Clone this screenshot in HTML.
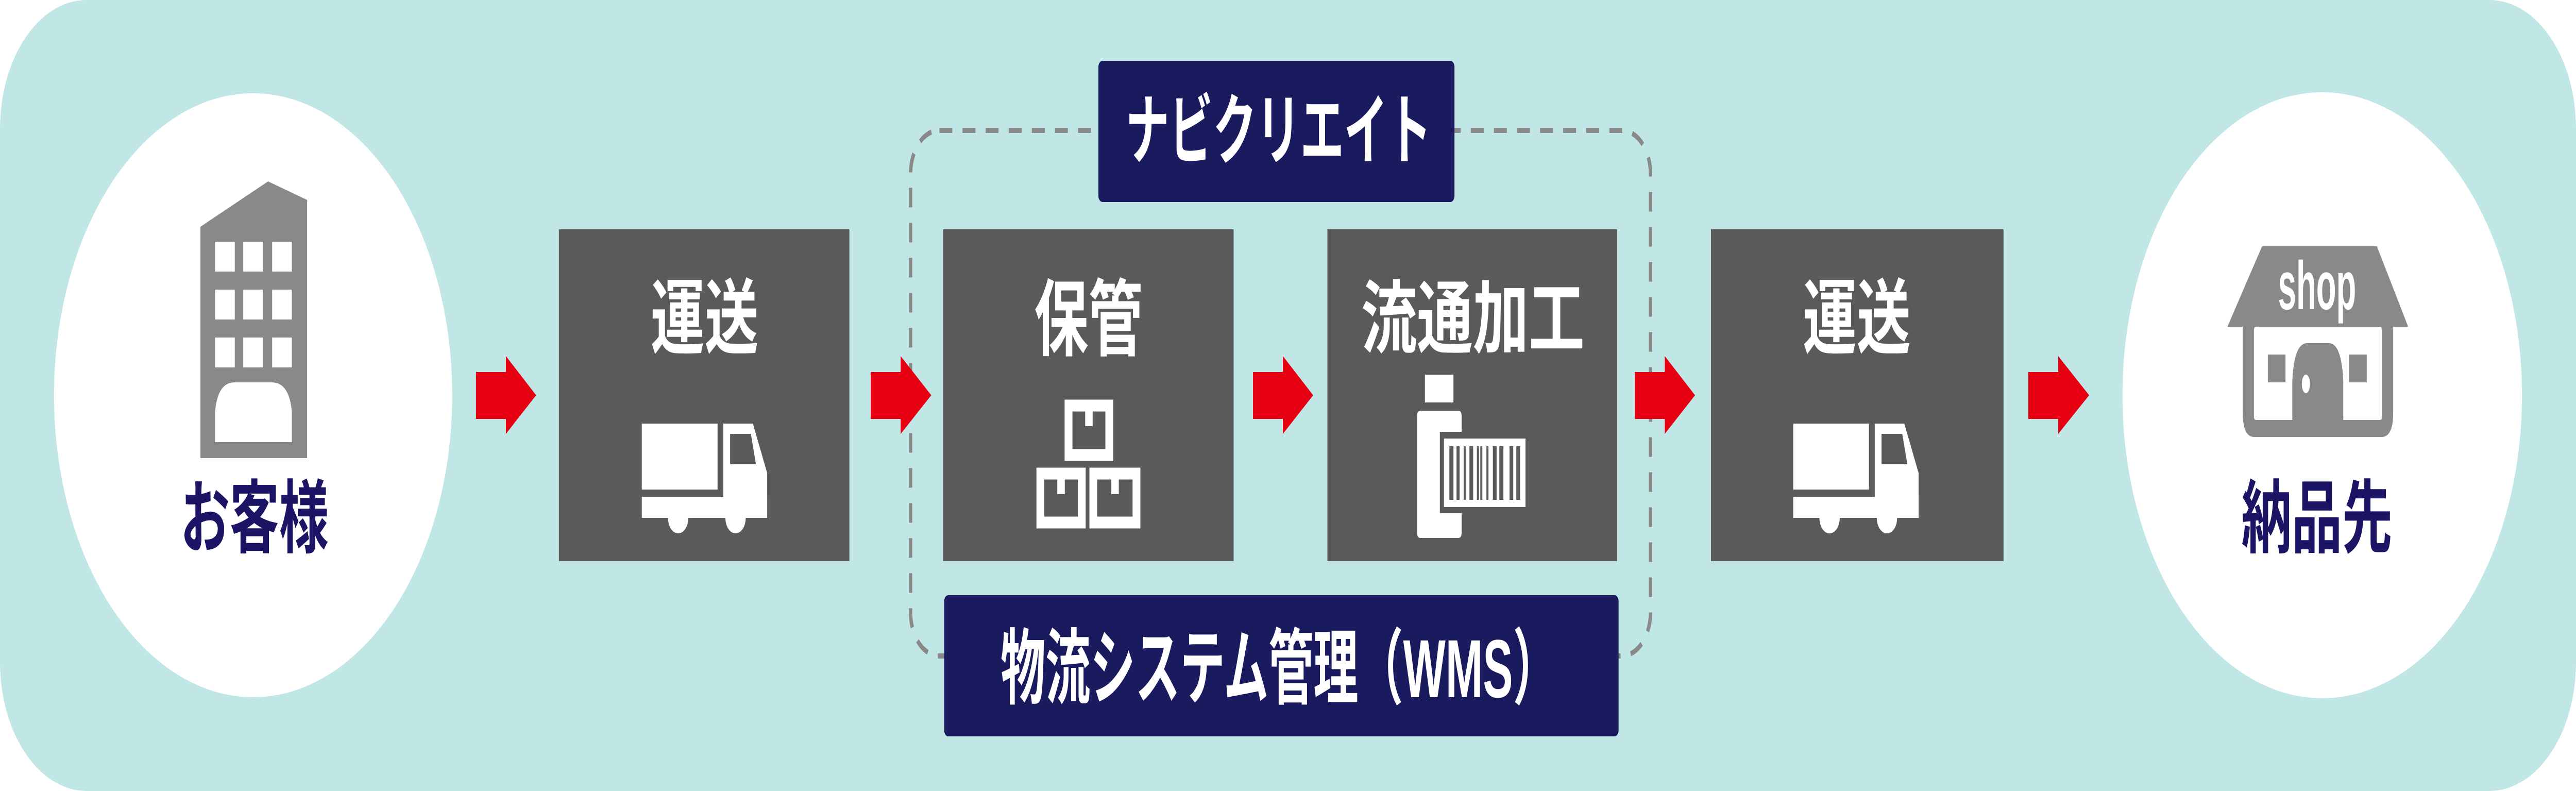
<!DOCTYPE html>
<html><head><meta charset="utf-8"><style>
html,body{margin:0;padding:0;background:#c0e7e6;width:100%;height:100%;overflow:hidden;}
svg{display:block;width:100vw;height:100vh;}
text{font-family:"Liberation Sans","Noto Sans CJK JP",sans-serif;font-weight:bold;}
</style></head><body>
<svg viewBox="0 0 7582 1535" preserveAspectRatio="none" xmlns="http://www.w3.org/2000/svg">
<rect x="0" y="0" width="7582" height="1535" fill="#fff"/>
<rect x="0" y="0" width="7582" height="1535" rx="255" ry="250" fill="#c0e7e6"/>
<circle cx="745" cy="767" r="586" fill="#fff"/>
<circle cx="6835" cy="767" r="588" fill="#fff"/>
<polygon points="590,440 789,352 904,388 904,889 590,889" fill="#898989"/>
<g fill="#fff">
<rect x="633" y="469" width="58" height="58"/><rect x="716" y="469" width="58" height="58"/><rect x="801" y="469" width="58" height="58"/>
<rect x="633" y="562" width="58" height="58"/><rect x="716" y="562" width="58" height="58"/><rect x="801" y="562" width="58" height="58"/>
<rect x="633" y="655" width="58" height="58"/><rect x="716" y="655" width="58" height="58"/><rect x="801" y="655" width="58" height="58"/>
<path d="M633,858 L633,800 Q640,742 690,742 L800,742 Q852,742 859,800 L859,858 Z"/>
</g>
<text x="531" y="1060" font-size="155" fill="#1c1565" textLength="436" lengthAdjust="spacingAndGlyphs">お客様</text>
<rect x="2680" y="253" width="2178" height="1020" rx="85" ry="85" fill="none" stroke="#898989" stroke-width="10" stroke-dasharray="38 30"/>
<g fill="#5b5a5b">
<rect x="1645" y="445" width="855" height="644"/>
<rect x="2776" y="445" width="855" height="644"/>
<rect x="3907" y="445" width="853" height="644"/>
<rect x="5036" y="445" width="861" height="644"/>
</g>
<g fill="#e60012">
<polygon points="1401,722 1489,722 1489,691 1578,767 1489,842 1489,813 1401,813"/>
<polygon points="2563,722 2651,722 2651,691 2741,767 2651,842 2651,813 2563,813"/>
<polygon points="3688,722 3776,722 3776,691 3865,767 3776,842 3776,813 3688,813"/>
<polygon points="4812,722 4900,722 4900,691 4989,767 4900,842 4900,813 4812,813"/>
<polygon points="5970,722 6058,722 6058,691 6149,767 6058,842 6058,813 5970,813"/>
</g>
<rect x="3233" y="118" width="1048" height="274" rx="12" fill="#1a1b5e"/>
<text x="3313" y="306" font-size="150" fill="#fff" textLength="900" lengthAdjust="spacingAndGlyphs">ナビクリエイト</text>
<rect x="2779" y="1155" width="1985" height="274" rx="12" fill="#1a1b5e"/>
<text x="2945" y="1353" font-size="160" fill="#fff" textLength="1640" lengthAdjust="spacingAndGlyphs">物流システム管理（WMS）</text>
<g fill="#fff">
<text x="1915" y="674" font-size="160" textLength="318" lengthAdjust="spacingAndGlyphs">運送</text>
<text x="3044" y="677" font-size="162" textLength="319" lengthAdjust="spacingAndGlyphs">保管</text>
<text x="4006" y="673" font-size="155" textLength="658" lengthAdjust="spacingAndGlyphs">流通加工</text>
<text x="5306" y="674" font-size="160" textLength="318" lengthAdjust="spacingAndGlyphs">運送</text>
</g>
<g id="truck" fill="#fff">
<rect x="1889" y="822" width="223" height="128"/>
<path d="M2129,822 L2216,822 L2258,918 L2258,1005 L2129,1005 Z M2149,842 L2149,901 L2225,901 L2210,842 Z" fill-rule="evenodd"/>
<rect x="1889" y="964" width="369" height="41"/>
<ellipse cx="1996" cy="1005" rx="30" ry="30"/>
<ellipse cx="2165" cy="1005" rx="30" ry="30"/>
</g>
<use href="#truck" x="3389" y="0"/>
<g fill="none" stroke="#fff" stroke-width="23">
<rect x="3145" y="787" width="120" height="96"/>
<rect x="3062" y="919" width="122" height="95"/>
<rect x="3218" y="919" width="127" height="95"/>
</g>
<g fill="#fff">
<rect x="3194" y="787" width="22" height="40"/>
<rect x="3112" y="919" width="22" height="40"/>
<rect x="3271" y="919" width="22" height="40"/>
</g>
<g fill="#fff">
<rect x="4194" y="727" width="84" height="54"/>
<path d="M4181,797 L4292,797 Q4302,797 4302,807 L4302,838 L4238,838 L4238,996 L4302,996 L4302,1034 Q4302,1044 4292,1044 L4181,1044 Q4171,1044 4171,1034 L4171,807 Q4171,797 4181,797 Z"/>
<rect x="4250" y="851" width="240" height="133"/>
</g>
<g fill="#5b5a5b">
<rect x="4266" y="866" width="12" height="104"/><rect x="4287" y="866" width="9" height="104"/>
<rect x="4308" y="866" width="6" height="104"/><rect x="4325" y="866" width="11" height="104"/>
<rect x="4347" y="866" width="6" height="104"/><rect x="4357" y="866" width="6" height="104"/>
<rect x="4375" y="866" width="6" height="104"/><rect x="4394" y="866" width="11" height="104"/>
<rect x="4413" y="866" width="12" height="104"/><rect x="4443" y="866" width="11" height="104"/>
<rect x="4463" y="866" width="11" height="104"/>
</g>
<polygon points="6658,478 6996,478 7088,634 6556,634" fill="#898989"/>
<text x="6705" y="600" font-size="133" fill="#fff" textLength="230" lengthAdjust="spacingAndGlyphs">shop</text>
<path d="M6601,634 L7044,634 L7044,800 Q7044,848 7010,848 L6635,848 Q6601,848 6601,800 Z" fill="#898989"/>
<rect x="6634" y="634" width="377" height="181" rx="6" fill="#fff"/>
<rect x="6675" y="688" width="52" height="54" fill="#898989"/>
<rect x="6914" y="688" width="52" height="54" fill="#898989"/>
<path d="M6747,815 L6747,740 Q6752,666 6790,666 L6855,666 Q6892,666 6897,740 L6897,815 Z" fill="#898989"/>
<ellipse cx="6787" cy="745" rx="12" ry="18" fill="#fff"/>
<text x="6597" y="1060" font-size="155" fill="#1c1565" textLength="445" lengthAdjust="spacingAndGlyphs">納品先</text>
</svg>
</body></html>
